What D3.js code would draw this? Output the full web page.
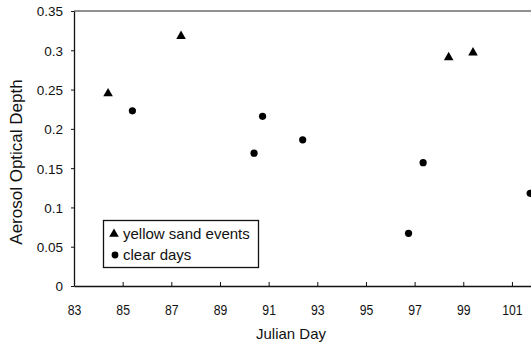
<!DOCTYPE html>
<html>
<head>
<meta charset="utf-8">
<script src="https://cdn.jsdelivr.net/npm/d3@7"></script>
<style>
  body { margin: 0; background: #fff; }
  text { font-family: "Liberation Sans", Arial, sans-serif; fill: #111; }
</style>
</head>
<body>
<div id="chart"></div>
<script>
// yellow sand event days (triangles)
var sandDays = [84.4, 87.4, 98.4, 99.4];
var sandAod = [0.245, 0.318, 0.291, 0.297];
// clear days (circles)
var clearDays = [85.4, 90.4, 90.75, 92.4, 96.75, 97.35, 101.75];
var clearAod = [0.223, 0.169, 0.216, 0.186, 0.067, 0.157, 0.118];
var xTicks = [83, 85, 87, 89, 91, 93, 95, 97, 99, 101];
var yTicks = [0, 0.05, 0.1, 0.15, 0.2, 0.25, 0.3, 0.35];

var width = 531, height = 343;
var margin = {top: 11, left: 74, bottom: 57};

var svg = d3.select('#chart').append('svg')
  .attr('width', width)
  .attr('height', height);

// x scale: 24.33 px per day, plot runs past the right edge of the picture
var x = d3.scaleLinear().domain([83, 102]).range([margin.left, margin.left + 19 * 24.33]);
var y = d3.scaleLinear().domain([0, 0.35]).range([height - margin.bottom, margin.top]);

// top border
svg.append('line')
  .attr('x1', x(83)).attr('x2', x(102))
  .attr('y1', y(0.35)).attr('y2', y(0.35))
  .attr('stroke', '#222').attr('stroke-width', 1);

var xAxis = d3.axisBottom(x).tickValues(xTicks).tickSizeInner(-4).tickSizeOuter(0)
  .tickPadding(18).tickFormat(d3.format('d'));
var yAxis = d3.axisLeft(y).tickValues(yTicks).tickSizeInner(3).tickSizeOuter(0)
  .tickPadding(8).tickFormat(function(d) { return d === 0 ? '0' : String(+d.toFixed(2)); });

var gx = svg.append('g').attr('transform', 'translate(0,' + y(0) + ')').call(xAxis);
var gy = svg.append('g').attr('transform', 'translate(' + x(83) + ',0)').call(yAxis);
[gx, gy].forEach(function(g) {
  g.selectAll('.domain').attr('stroke', '#111').attr('stroke-width', 1.3);
  g.selectAll('.tick line').attr('stroke', '#111');
  g.selectAll('.tick text').style('font-family', '"Liberation Sans", Arial, sans-serif').attr('fill', '#111');
});
// x labels are tall and narrow in the original
gx.selectAll('.tick text').style('font-size', '15px')
  .attr('textLength', function(d) { return String(d).length * 6.8; })
  .attr('lengthAdjust', 'spacingAndGlyphs');
gy.selectAll('.tick text').style('font-size', '13.5px').attr('dy', '0.36em');

// axis titles
svg.append('text')
  .attr('x', 291).attr('y', 339)
  .attr('text-anchor', 'middle')
  .style('font-size', '15px')
  .text('Julian Day');

svg.append('text')
  .attr('transform', 'translate(22,' + 162 + ') rotate(-90)')
  .attr('text-anchor', 'middle')
  .style('font-size', '17px')
  .text('Aerosol Optical Depth');

var tri = d3.symbol().type(d3.symbolTriangle).size(40);

// triangles
svg.append('g').selectAll('path')
  .data(sandDays)
  .enter()
  .append('path')
  .attr('d', tri)
  .attr('transform', function(d, i) { return 'translate(' + x(d) + ',' + y(sandAod[i]) + ')'; })
  .attr('fill', '#000');

// circles
svg.append('g').selectAll('circle')
  .data(clearDays)
  .enter()
  .append('circle')
  .attr('cx', function(d) { return x(d); })
  .attr('cy', function(d, i) { return y(clearAod[i]); })
  .attr('r', 3.6)
  .attr('fill', '#000');

// legend
var legend = svg.append('g');
legend.append('rect')
  .attr('x', 103.5).attr('y', 220.5)
  .attr('width', 155).attr('height', 47)
  .attr('fill', '#fff').attr('stroke', '#111').attr('stroke-width', 1.3);
legend.append('path').attr('d', tri).attr('transform', 'translate(114,234)').attr('fill', '#000');
legend.append('circle').attr('cx', 115).attr('cy', 255).attr('r', 3.4).attr('fill', '#000');
legend.append('text').attr('x', 123).attr('y', 238.5).style('font-size', '15px').text('yellow sand events');
legend.append('text').attr('x', 123).attr('y', 260).style('font-size', '15px').text('clear days');
</script>
</body>
</html>
